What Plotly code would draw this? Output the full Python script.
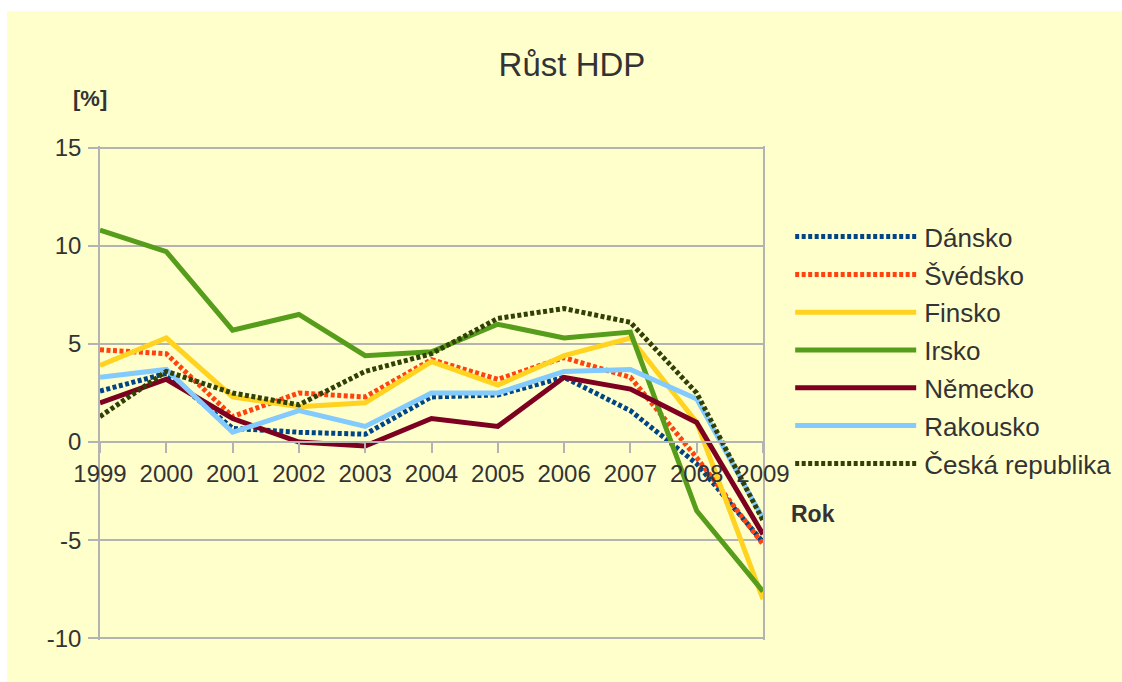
import plotly.graph_objects as go

years = [1999, 2000, 2001, 2002, 2003, 2004, 2005, 2006, 2007, 2008, 2009]
danske = [2.6, 3.5, 0.7, 0.5, 0.4, 2.3, 2.4, 3.3, 1.6, -1.1, -5.1]
svedsko = [4.7, 4.5, 1.3, 2.5, 2.3, 4.2, 3.2, 4.3, 3.3, -0.8, -5.2]
finsko = [3.9, 5.3, 2.3, 1.8, 2.0, 4.1, 2.9, 4.4, 5.3, 1.0, -8.0]
irsko = [10.8, 9.7, 5.7, 6.5, 4.4, 4.6, 6.0, 5.3, 5.6, -3.5, -7.6]
nemecko = [2.0, 3.2, 1.2, 0.0, -0.2, 1.2, 0.8, 3.3, 2.7, 1.0, -4.7]
rakousko = [3.3, 3.7, 0.5, 1.6, 0.8, 2.5, 2.5, 3.6, 3.7, 2.2, -3.9]
cesko = [1.3, 3.6, 2.5, 1.9, 3.6, 4.5, 6.3, 6.8, 6.1, 2.5, -4.0]

names = ["Dánsko", "Švédsko", "Finsko", "Irsko", "Německo", "Rakousko", "Česká republika"]
series = [danske, svedsko, finsko, irsko, nemecko, rakousko, cesko]
colors = ["#004586", "#ff420e", "#ffd320", "#579d1c", "#7e0021", "#83caff", "#314004"]
dashes = ["4px,2.5px", "4px,2.5px", "solid", "solid", "solid", "solid", "4px,2.5px"]

y_tickvals = [-10, -5, 0, 5, 10, 15]
y_ticktext = ["-10", "-5", "0", "5", "10", "15"]

FONT = "Liberation Sans, Arial, sans-serif"
TXT = "#333333"
GRID = "#b3b3b3"

y_range = [-10.08, 15.08]
zero_pos = (0 - y_range[0]) / (y_range[1] - y_range[0])

fig = go.Figure()
for n, s, c, d in zip(names, series, colors, dashes):
    fig.add_trace(go.Scatter(x=years, y=s, name=n, mode="lines", legendgroup=n,
                             line=dict(color=c, width=5, dash=d)))

fig.update_layout(
    width=1115, height=671,
    paper_bgcolor="#ffffcc", plot_bgcolor="#ffffcc",
    margin=dict(l=93, r=359, t=135, b=42, autoexpand=False),
    font=dict(family=FONT, color=TXT, size=24),
    title=dict(text="Růst HDP", x=0.5067, xref="container", xanchor="center",
               y=0.921, yref="container", yanchor="middle",
               font=dict(size=33, color=TXT, family=FONT)),
    showlegend=True,
    legend=dict(x=1.041, y=0.864, xanchor="left", yanchor="top",
                bgcolor="rgba(0,0,0,0)", font=dict(size=26, color=TXT, family=FONT),
                itemwidth=124, tracegroupgap=1),
    xaxis=dict(range=[1999, 2009], tickmode="array", tickvals=years,
               ticktext=[str(y) for y in years],
               anchor="free", position=zero_pos, showgrid=False,
               showline=True, linecolor=GRID, linewidth=1.5,
               ticks="outside", ticklen=10, tickcolor=GRID, tickwidth=1.5,
               tickfont=dict(size=24, color=TXT), zeroline=False),
    yaxis=dict(range=y_range, tickmode="array", tickvals=y_tickvals, ticktext=y_ticktext,
               showgrid=True, gridcolor=GRID, gridwidth=1.5,
               showline=True, mirror=True, linecolor=GRID, linewidth=1.5,
               ticks="outside", ticklen=10, tickcolor=GRID, tickwidth=1.5,
               tickfont=dict(size=24, color=TXT), zeroline=False, ticklabelstandoff=2),
    annotations=[
        dict(text="<b>[%]</b>", x=-0.0151, y=1.097, xref="paper", yref="paper",
             showarrow=False, font=dict(size=22, color=TXT, family=FONT),
             xanchor="center", yanchor="middle"),
        dict(text="<b>Rok</b>", x=1.0754, y=0.255, xref="paper", yref="paper",
             showarrow=False, font=dict(size=23, color=TXT, family=FONT),
             xanchor="center", yanchor="middle"),
    ],
)

post = """
document.body.style.margin='11px 0 0 7px';
document.body.style.overflow='hidden';
var gd = document.getElementById('{plot_id}');
gd.querySelectorAll('.legend .legendlines path').forEach(function(p){ p.setAttribute('d','M5,0h121'); });
"""
fig.write_html("out.html", config={"responsive": False, "displayModeBar": False}, post_script=post)
